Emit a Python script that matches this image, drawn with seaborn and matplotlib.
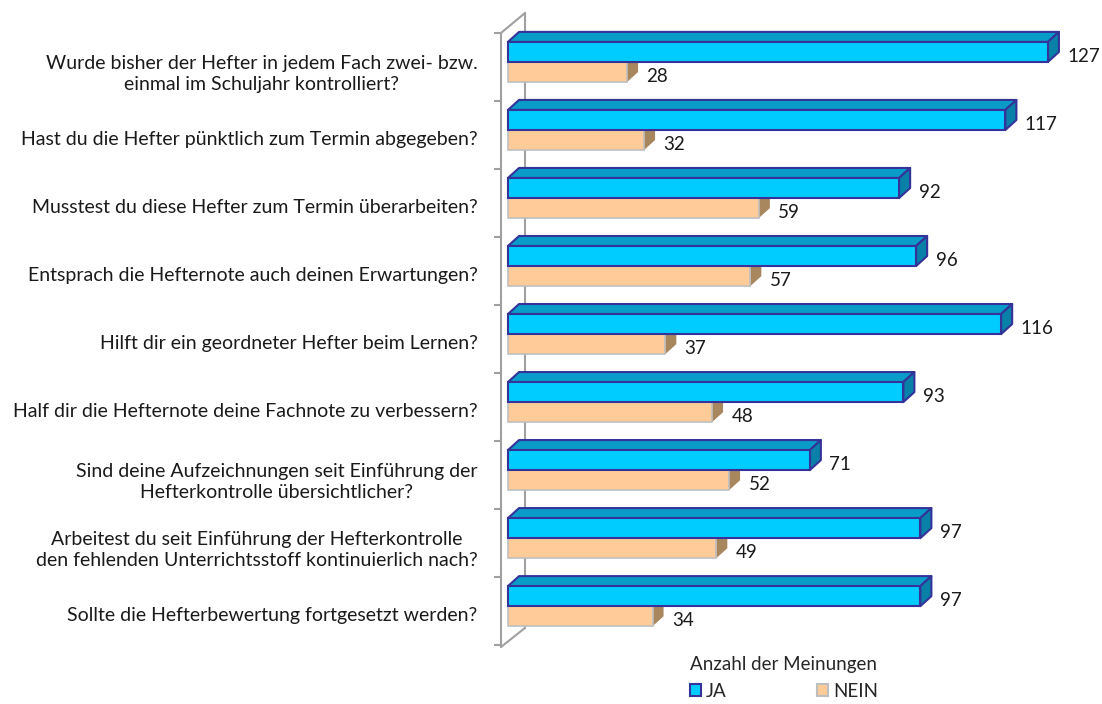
import seaborn as sns
import matplotlib.pyplot as plt
import pandas as pd
from matplotlib.patches import Polygon, Patch

fragen = [
    "Wurde bisher der Hefter in jedem Fach zwei- bzw.\neinmal im Schuljahr kontrolliert?",
    "Hast du die Hefter pünktlich zum Termin abgegeben?",
    "Musstest du diese Hefter zum Termin überarbeiten?",
    "Entsprach die Hefternote auch deinen Erwartungen?",
    "Hilft dir ein geordneter Hefter beim Lernen?",
    "Half dir die Hefternote deine Fachnote zu verbessern?",
    "Sind deine Aufzeichnungen seit Einführung der\nHefterkontrolle übersichtlicher?",
    "Arbeitest du seit Einführung der Hefterkontrolle\nden fehlenden Unterrichtsstoff kontinuierlich nach?",
    "Sollte die Hefterbewertung fortgesetzt werden?",
]
ja = [127, 117, 92, 96, 116, 93, 71, 97, 97]
nein = [28, 32, 59, 57, 37, 48, 52, 49, 34]

df = pd.DataFrame({
    "frage": fragen * 2,
    "antwort": ["JA"] * len(ja) + ["NEIN"] * len(nein),
    "anzahl": ja + nein,
})

sns.set_style("white")
plt.rcParams["font.family"] = ["Lato", "DejaVu Sans"]

fig = plt.figure(figsize=(11.02, 7.04), dpi=100)
ax = fig.add_axes([501 / 1102, 1 - 647 / 704, 583 / 1102, 634 / 704])

farben = {"JA": "#00CCFF", "NEIN": "#FFCC99"}
sns.barplot(data=df, y="frage", x="anzahl", hue="antwort", orient="h",
            palette=farben, saturation=1, width=0.59, legend=False, ax=ax)

# 3D look: top and side faces from each bar
dx, dy = 2.6, 0.147
stil = {
    "JA": dict(edge="#333399", top="#0A9CC8", side="#0880A8", lw=1.5, z=3),
    "NEIN": dict(edge="#BFBFBF", top="#D9B088", side="#A8865E", lw=1.2, z=1),
}
for cont, name in zip(ax.containers, ["JA", "NEIN"]):
    s = stil[name]
    for bar in cont:
        x0, y0 = bar.get_x(), bar.get_y()
        w, h = bar.get_width(), bar.get_height()
        bar.set_edgecolor(s["edge"])
        bar.set_linewidth(s["lw"])
        bar.set_zorder(s["z"] + 1)
        top = Polygon([(x0, y0), (x0 + w, y0), (x0 + w + dx, y0 - dy), (x0 + dx, y0 - dy)],
                      facecolor=s["top"], edgecolor=s["edge"] if name == "JA" else "none",
                      linewidth=s["lw"], zorder=s["z"], joinstyle="round")
        side = Polygon([(x0 + w, y0), (x0 + w + dx, y0 - dy), (x0 + w + dx, y0 + h - dy), (x0 + w, y0 + h)],
                       facecolor=s["side"], edgecolor=s["edge"] if name == "JA" else "none",
                       linewidth=s["lw"], zorder=s["z"], joinstyle="round")
        ax.add_patch(top)
        ax.add_patch(side)
    for bar, val in zip(cont, cont.datavalues):
        ax.annotate(f"{val:.0f}", (bar.get_x() + bar.get_width(), bar.get_y() + bar.get_height() / 2),
                    xytext=(14, -3), textcoords="offset points", va="center", ha="left",
                    fontsize=13.5, color="#1a1a1a")

# wall lines
wand = "#A0A0A0"
xv, xh = -1.64, 4.0
ax.plot([xv, xv], [-0.426, 8.6], color=wand, lw=1.5, zorder=0.5, clip_on=False)
ax.plot([xh, xh], [-0.72, 8.32], color=wand, lw=1.5, zorder=0.5, clip_on=False)
ax.plot([xv, xh], [-0.426, -0.72], color=wand, lw=1.5, zorder=0.5, clip_on=False)
ax.plot([xv, xh], [8.6, 8.32], color=wand, lw=1.5, zorder=0.5, clip_on=False)

ax.set_xlim(xv, 135.5)
ax.set_ylim(8.6, -0.72)
for sp in ax.spines.values():
    sp.set_visible(False)
ax.set_xticks([])
ax.set_xlabel("")
ax.set_ylabel("")
ax.set_yticks([k + 0.12 for k in range(len(fragen))], labels=fragen)
ax.set_yticks([k - 0.426 for k in range(len(fragen) + 1)], minor=True)
ax.tick_params(axis="y", which="major", length=0, pad=17, labelsize=14, labelcolor="#1a1a1a")
ax.tick_params(axis="y", which="minor", length=5, width=1.5, color=wand, left=True)
for lab in ax.get_yticklabels():
    lab.set_multialignment("center")
    lab.set_linespacing(1.3)

handles = [Patch(facecolor="#00CCFF", edgecolor="#333399", linewidth=1.5, label="JA"),
           Patch(facecolor="#FFCC99", edgecolor="#BFBFBF", linewidth=1.5, label="NEIN")]
leg = fig.legend(handles=handles, loc="center", bbox_to_anchor=(784 / 1102, 1 - 678 / 704),
                 ncol=2, frameon=False, title="Anzahl der Meinungen", fontsize=13.5,
                 title_fontsize=13.5, handlelength=0.6, handleheight=0.6, handletextpad=0.25,
                 columnspacing=4.8)

fig.savefig("out.png", dpi=100)
